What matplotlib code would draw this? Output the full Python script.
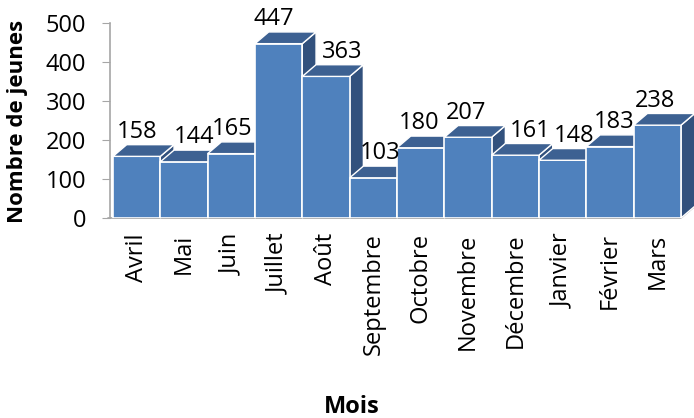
import matplotlib
matplotlib.use("Agg")
import matplotlib.pyplot as plt
from matplotlib.patches import Polygon

plt.rcParams['font.family'] = ['Open Sans', 'DejaVu Sans']

months = ["Avril", "Mai", "Juin", "Juillet", "Août", "Septembre", "Octobre",
          "Novembre", "Décembre", "Janvier", "Février", "Mars"]
jeunes = [158, 144, 165, 447, 363, 103, 180, 207, 161, 148, 183, 238]

# horizontal nudge of value labels (px), the way Excel dodged them
label_nudge = [0, 10, 1, -5, 16, 7, -2, -2, 15, 11, 4, -2]

front = "#4F81BD"
top = "#3D6192"
side = "#32517D"
dx, dy = 0.29, 30   # 3d depth in data units

fig = plt.figure(figsize=(6.94, 4.18), dpi=100)
ax = fig.add_axes([0.1585, 0.4785, 0.8415, 0.4665])

x = list(range(len(jeunes)))
bars = ax.bar(x, jeunes, width=1.0, color=front, edgecolor="white", linewidth=1.2)
for i, (b, v) in enumerate(zip(bars, jeunes)):
    z = 2 + i
    b.set_zorder(z)
    l, r = i - 0.5, i + 0.5
    ax.add_patch(Polygon([(l, v), (r, v), (r + dx, v + dy), (l + dx, v + dy)],
                         closed=True, facecolor=top, edgecolor="white",
                         linewidth=1.0, zorder=z, clip_on=False))
    ax.add_patch(Polygon([(r, 0), (r + dx, dy), (r + dx, v + dy), (r, v)],
                         closed=True, facecolor=side, edgecolor="white",
                         linewidth=1.0, zorder=z - 0.5, clip_on=False))
    ax.annotate(str(v), (i, v + dy), xytext=(label_nudge[i] * 0.72, 5),
                textcoords="offset points", ha="center", va="baseline",
                fontsize=17, zorder=30, annotation_clip=False)

# floor line
ax.plot([-0.6, len(jeunes) - 0.5, len(jeunes) - 0.5 + dx], [0, 0, dy],
        color="#A6A6A6", lw=1.2, zorder=1, clip_on=False)

ax.set_xlim(-0.563, 11.775)
ax.set_ylim(0, 500)
ax.set_yticks(range(0, 501, 100))
ax.set_xticks(x)
ax.set_xticklabels(months, rotation=90, va="top", ha="center", fontsize=17)
ax.tick_params(axis="x", length=0, pad=11)
ax.tick_params(axis="y", length=6, color="#A6A6A6", labelsize=17, pad=11)

for s in ["top", "right", "bottom"]:
    ax.spines[s].set_visible(False)
ax.spines["left"].set_color("#A6A6A6")
ax.spines["left"].set_linewidth(1.2)

fig.text(18 / 694, 1 - 121 / 418, "Nombre de jeunes", rotation=90, ha="center",
         va="center", fontsize=16, fontweight="bold")
fig.text(352 / 694, 1 - 407 / 418, "Mois", ha="center", va="center",
         fontsize=17, fontweight="bold")

fig.savefig("out.png", dpi=100)
